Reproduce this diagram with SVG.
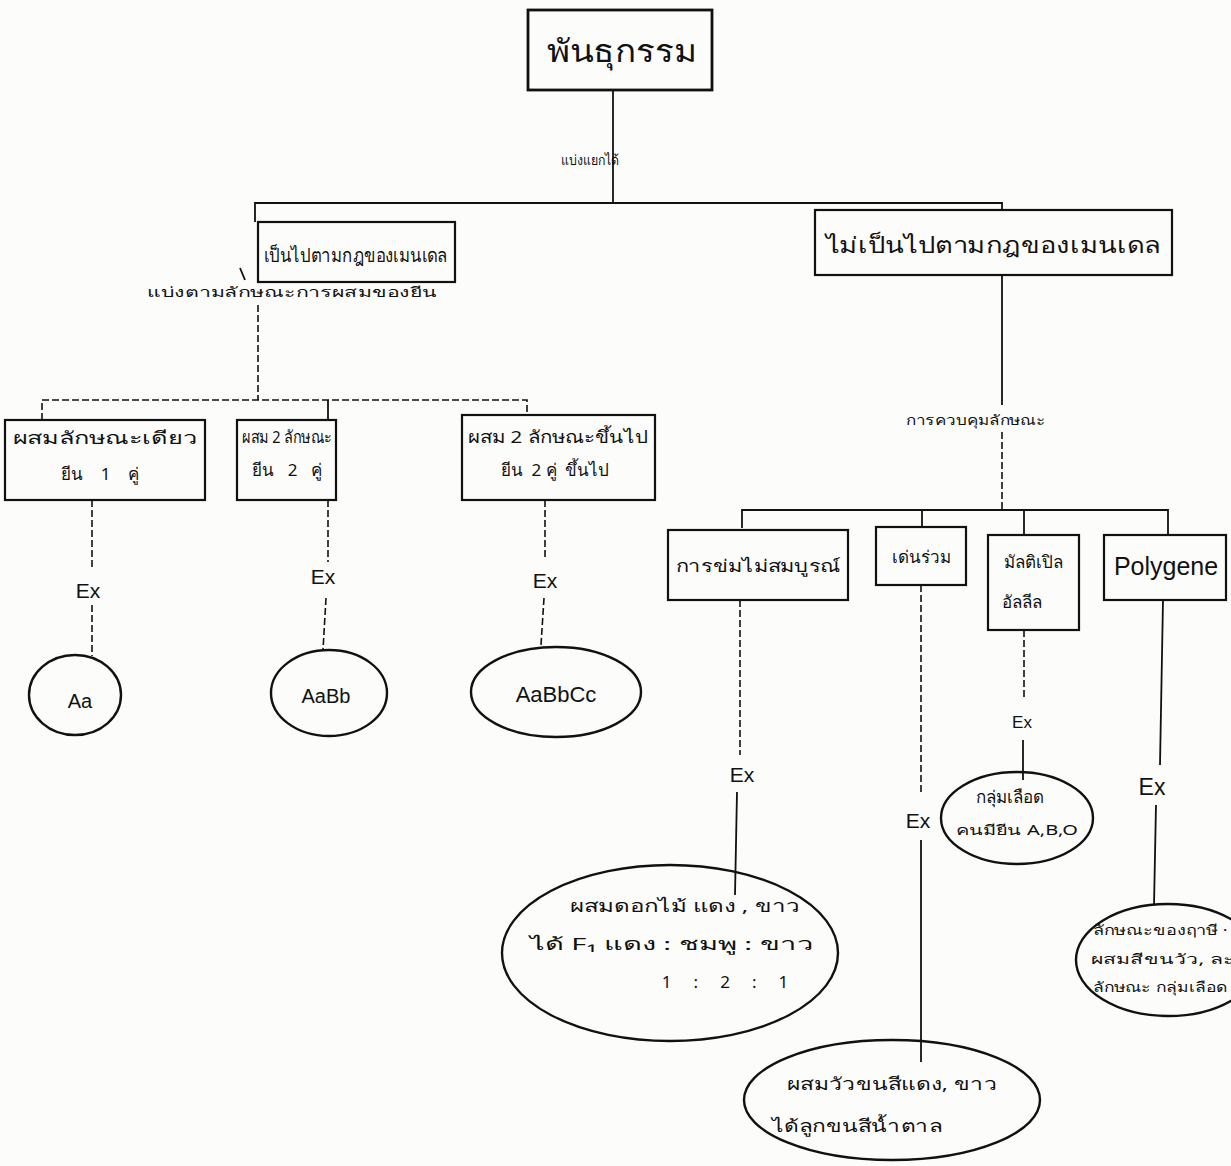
<svg xmlns="http://www.w3.org/2000/svg" width="1231" height="1166" viewBox="0 0 1231 1166">
<style>
.bg{fill:#fcfcfa}
.box{fill:none;stroke:#111;stroke-width:2.2}
.blob{fill:none;stroke:#111;stroke-width:2.4}
.ln{fill:none;stroke:#111;stroke-width:1.8}
.dl{fill:none;stroke:#111;stroke-width:1.6;stroke-dasharray:7 3}
text{font-family:"Noto Sans","DejaVu Sans",sans-serif;fill:#111;text-anchor:middle}
.t{font-size:17px}
.s{font-size:14px}
.pre{white-space:pre}
.ex{font-size:21px;font-family:"Liberation Sans",sans-serif}
</style>
<rect class="bg" x="0" y="0" width="1231" height="1166"/>
<g id="connectors">
<line class="ln" x1="613" y1="90" x2="613" y2="203"/>
<polyline class="ln" points="255,222 255,203 1002,203 1002,210"/>
<line class="ln" x1="240" y1="268" x2="245" y2="280"/>
<line class="dl" x1="258" y1="305" x2="258" y2="400"/>
<polyline class="dl" points="42,420 42,400 527,400 527,415"/>
<line class="ln" x1="328" y1="400" x2="328" y2="420"/>
<line class="dl" x1="92" y1="500" x2="92" y2="568"/>
<line class="dl" x1="92" y1="605" x2="92" y2="656"/>
<line class="dl" x1="328" y1="500" x2="328" y2="562"/>
<line class="dl" x1="326" y1="598" x2="323" y2="650"/>
<line class="dl" x1="545" y1="500" x2="545" y2="560"/>
<line class="dl" x1="544" y1="598" x2="541" y2="645"/>
<line class="ln" x1="1002" y1="275" x2="1002" y2="405"/>
<line class="dl" x1="1002" y1="432" x2="1002" y2="510"/>
<polyline class="ln" points="742,528 742,510 1168,510 1168,535"/>
<line class="ln" x1="922" y1="510" x2="922" y2="527"/>
<line class="ln" x1="1024" y1="510" x2="1024" y2="535"/>
<line class="dl" x1="740" y1="600" x2="740" y2="755"/>
<line class="ln" x1="737" y1="792" x2="735" y2="895"/>
<line class="dl" x1="921" y1="585" x2="921" y2="795"/>
<line class="ln" x1="921" y1="840" x2="921" y2="1062"/>
<line class="dl" x1="1024" y1="630" x2="1024" y2="700"/>
<line class="ln" x1="1023" y1="740" x2="1023" y2="780"/>
<line class="ln" x1="1163" y1="600" x2="1160" y2="765"/>
<line class="ln" x1="1156" y1="805" x2="1154" y2="905"/>
</g>
<g id="root">
<rect class="box" x="528" y="10" width="184" height="80" style="stroke-width:2.8"/>
<text x="622" y="62" style="font-size:31px" textLength="150" lengthAdjust="spacingAndGlyphs">พันธุกรรม</text>
</g>
<g id="lbl-split"><text class="s" x="590" y="165" textLength="58" lengthAdjust="spacingAndGlyphs">แบ่งแยกได้</text></g>
<g id="mendel">
<rect class="box" x="258" y="222" width="197" height="60"/>
<text x="356" y="262" style="font-size:19px" textLength="184" lengthAdjust="spacingAndGlyphs">เป็นไปตามกฎของเมนเดล</text>
</g>
<g id="non-mendel">
<rect class="box" x="815" y="210" width="357" height="65"/>
<text x="993" y="253" style="font-size:22px" textLength="335" lengthAdjust="spacingAndGlyphs">ไม่เป็นไปตามกฎของเมนเดล</text>
</g>
<g id="lbl-gene"><text class="s" x="292" y="297" textLength="290" lengthAdjust="spacingAndGlyphs">แบ่งตามลักษณะการผสมของยีน</text></g>
<g id="mono">
<rect class="box" x="5" y="420" width="200" height="80"/>
<text class="t" x="105" y="444" textLength="185" lengthAdjust="spacingAndGlyphs">ผสมลักษณะเดียว</text>
<text class="t pre" x="100" y="480">ยีน    1    คู่</text>
</g>
<g id="di">
<rect class="box" x="237" y="420" width="99" height="80"/>
<text class="t" x="287" y="443" textLength="90" lengthAdjust="spacingAndGlyphs">ผสม 2 ลักษณะ</text>
<text class="t pre" x="287" y="476">ยีน   2   คู่</text>
</g>
<g id="poly-cross">
<rect class="box" x="462" y="415" width="193" height="85"/>
<text class="t" x="558" y="443" textLength="180" lengthAdjust="spacingAndGlyphs">ผสม 2 ลักษณะขึ้นไป</text>
<text class="t pre" x="555" y="476">ยีน  2 คู่  ขึ้นไป</text>
</g>
<g id="ex-left">
<text class="ex" x="88" y="598">Ex</text>
<text class="ex" x="323" y="584">Ex</text>
<text class="ex" x="545" y="588">Ex</text>
</g>
<g id="aa">
<ellipse class="blob" cx="75" cy="695" rx="46" ry="40"/>
<text x="80" y="708" style="font-size:20px;font-family:'Liberation Sans',sans-serif">Aa</text>
</g>
<g id="aabb">
<ellipse class="blob" cx="329" cy="693" rx="58" ry="43"/>
<text x="326" y="703" style="font-size:20px;font-family:'Liberation Sans',sans-serif">AaBb</text>
</g>
<g id="aabbcc">
<ellipse class="blob" cx="556" cy="692" rx="85" ry="45"/>
<text x="556" y="702" style="font-size:22px;font-family:'Liberation Sans',sans-serif">AaBbCc</text>
</g>
<g id="lbl-control"><text class="s" x="976" y="425" textLength="140" lengthAdjust="spacingAndGlyphs">การควบคุมลักษณะ</text></g>
<g id="incomplete">
<rect class="box" x="668" y="530" width="180" height="70"/>
<text class="t" x="758" y="572" textLength="165" lengthAdjust="spacingAndGlyphs">การข่มไม่สมบูรณ์</text>
</g>
<g id="codominant">
<rect class="box" x="876" y="527" width="90" height="58"/>
<text class="t" x="921" y="563">เด่นร่วม</text>
</g>
<g id="multiple">
<rect class="box" x="988" y="535" width="91" height="95"/>
<text class="t" x="1033" y="568">มัลติเปิล</text>
<text class="t" x="1022" y="608">อัลลีล</text>
</g>
<g id="polygene">
<rect class="box" x="1104" y="535" width="122" height="65"/>
<text x="1166" y="575" style="font-size:25px;font-family:'Liberation Sans',sans-serif">Polygene</text>
</g>
<g id="ex-right">
<text class="ex" x="742" y="782">Ex</text>
<text class="ex" x="918" y="828">Ex</text>
<text class="ex" x="1022" y="728" style="font-size:17px">Ex</text>
<text class="ex" x="1152" y="795" style="font-size:23px">Ex</text>
</g>
<g id="ex-flower">
<ellipse class="blob" cx="670" cy="953" rx="168" ry="88"/>
<text class="t" x="685" y="912" textLength="230" lengthAdjust="spacingAndGlyphs">ผสมดอกไม้ แดง , ขาว</text>
<text class="t" x="672" y="950" textLength="285" lengthAdjust="spacingAndGlyphs">ได้ F₁  แดง : ชมพู : ขาว</text>
<text class="t pre" x="725" y="988">1     :     2     :     1</text>
</g>
<g id="ex-cattle">
<ellipse class="blob" cx="892" cy="1100" rx="148" ry="60"/>
<text class="t" x="892" y="1090" textLength="210" lengthAdjust="spacingAndGlyphs">ผสมวัวขนสีแดง, ขาว</text>
<text class="t" x="857" y="1132" textLength="170" lengthAdjust="spacingAndGlyphs">ได้ลูกขนสีน้ำตาล</text>
</g>
<g id="ex-blood">
<ellipse class="blob" cx="1017" cy="818" rx="76" ry="46"/>
<text class="t" x="1010" y="803">กลุ่มเลือด</text>
<text class="s" x="1017" y="835" textLength="122" lengthAdjust="spacingAndGlyphs">คนมียีน A,B,O</text>
</g>
<g id="ex-polygene">
<ellipse class="blob" cx="1168" cy="960" rx="92" ry="56"/>
<text class="s" x="1160" y="935" textLength="135" lengthAdjust="spacingAndGlyphs">ลักษณะของฤาษี ·</text>
<text class="s" x="1163" y="964" textLength="145" lengthAdjust="spacingAndGlyphs">ผสมสีขนวัว, ละ</text>
<text class="s" x="1160" y="992" textLength="135" lengthAdjust="spacingAndGlyphs">ลักษณะ กลุ่มเลือด</text>
</g>
</svg>
